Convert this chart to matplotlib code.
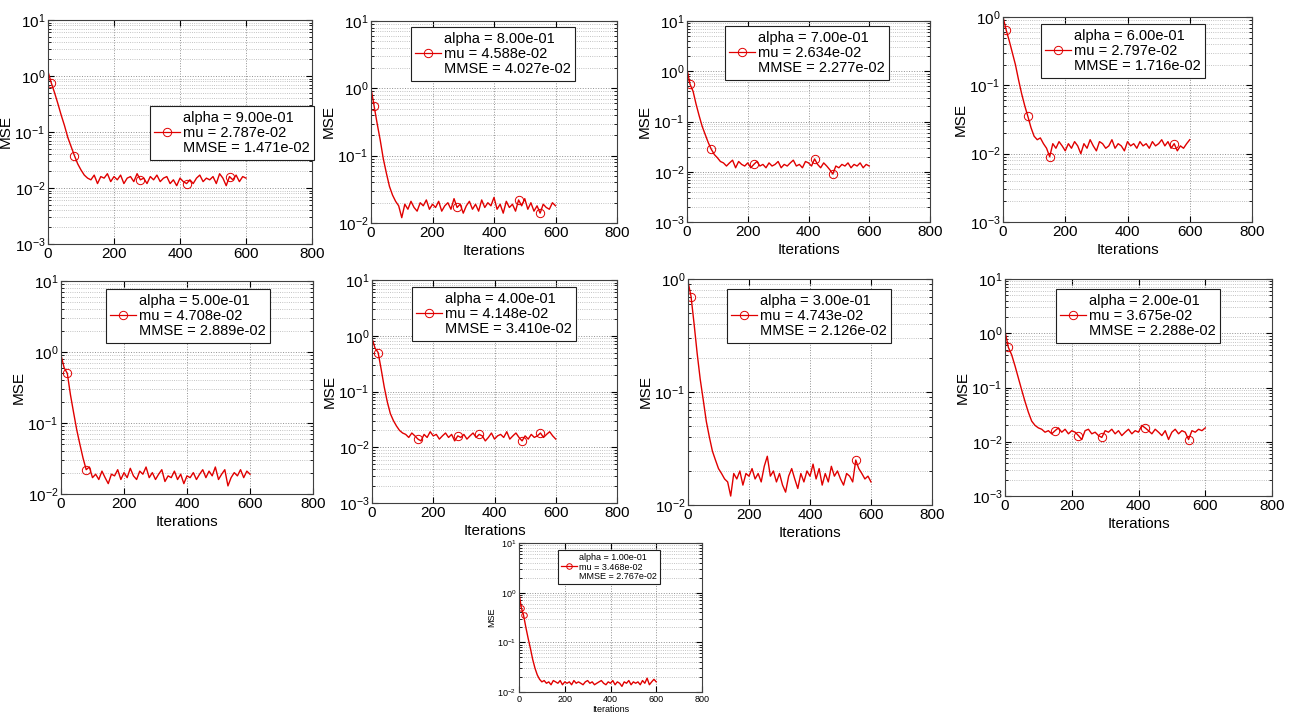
import matplotlib
matplotlib.use("Agg")
import matplotlib.pyplot as plt
from matplotlib.lines import Line2D
from matplotlib.ticker import LogLocator, NullFormatter
import numpy as np

plt.rcParams['font.family'] = ['Liberation Sans', 'DejaVu Sans']

# iterations sampled every 10 steps
ITERATIONS = list(range(0, 601, 10))

ALPHAS = ['9.00e-01', '8.00e-01', '7.00e-01', '6.00e-01', '5.00e-01',
          '4.00e-01', '3.00e-01', '2.00e-01', '1.00e-01']
MUS = ['2.787e-02', '4.588e-02', '2.634e-02', '2.797e-02', '4.708e-02',
       '4.148e-02', '4.743e-02', '3.675e-02', '3.468e-02']
MMSES = ['1.471e-02', '4.027e-02', '2.277e-02', '1.716e-02', '2.889e-02',
         '3.410e-02', '2.126e-02', '2.288e-02', '2.767e-02']

mse_a9 = [1.2, 0.75, 0.5, 0.32, 0.2, 0.13, 0.08, 0.055, 0.038, 0.027, 0.021, 0.017, 0.015,
          0.014, 0.017, 0.012, 0.016, 0.015, 0.018, 0.013, 0.016, 0.014, 0.017,
          0.012, 0.015, 0.016, 0.013, 0.018, 0.014, 0.015, 0.012, 0.016, 0.014,
          0.017, 0.013, 0.015, 0.016, 0.012, 0.014, 0.011, 0.015, 0.013, 0.012,
          0.014, 0.012, 0.015, 0.017, 0.013, 0.015, 0.014, 0.016, 0.012, 0.018,
          0.015, 0.011, 0.016, 0.014, 0.017, 0.013, 0.016, 0.015]
mse_a8 = [1.0, 0.55, 0.3, 0.17, 0.09, 0.055, 0.035, 0.026, 0.021, 0.018, 0.012,
          0.019, 0.016, 0.021, 0.017, 0.015, 0.020, 0.018, 0.022, 0.016, 0.019,
          0.017, 0.021, 0.015, 0.018, 0.020, 0.016, 0.023, 0.017, 0.019, 0.014,
          0.018, 0.021, 0.016, 0.019, 0.015, 0.022, 0.017, 0.020, 0.018, 0.024,
          0.016, 0.019, 0.014, 0.021, 0.017, 0.019, 0.015, 0.022, 0.018, 0.023,
          0.016, 0.020, 0.015, 0.018, 0.014, 0.019, 0.017, 0.016, 0.020, 0.018]
mse_a7 = [1.1, 0.55, 0.4, 0.22, 0.13, 0.08, 0.055, 0.038, 0.028, 0.022, 0.019, 0.016, 0.015,
          0.013, 0.015, 0.017, 0.012, 0.016, 0.014, 0.013, 0.015, 0.012, 0.014,
          0.016, 0.013, 0.014, 0.012, 0.015, 0.013, 0.014, 0.016, 0.012, 0.014,
          0.013, 0.015, 0.017, 0.013, 0.014, 0.012, 0.016, 0.015, 0.013, 0.018,
          0.014, 0.012, 0.015, 0.013, 0.011, 0.009, 0.013, 0.012, 0.014, 0.013,
          0.015, 0.012, 0.014, 0.013, 0.015, 0.012, 0.014, 0.013]
mse_a6 = [1.0, 0.65, 0.45, 0.3, 0.2, 0.12, 0.075, 0.05, 0.035, 0.024, 0.018, 0.016, 0.017,
          0.014, 0.012, 0.009,
          0.014, 0.012, 0.015, 0.013, 0.011, 0.014, 0.012, 0.015, 0.013, 0.010,
          0.014, 0.012, 0.016, 0.013, 0.011, 0.015, 0.014, 0.012, 0.013, 0.016,
          0.012, 0.014, 0.013, 0.011, 0.015, 0.013, 0.014, 0.012, 0.015, 0.013,
          0.014, 0.012, 0.015, 0.013, 0.014, 0.016, 0.013, 0.015, 0.012, 0.014,
          0.011, 0.013, 0.012, 0.014, 0.016]
mse_a5 = [0.9, 0.6, 0.5, 0.25, 0.14, 0.08, 0.05, 0.032, 0.022, 0.024, 0.017,
          0.019, 0.016, 0.021, 0.017, 0.014, 0.019, 0.018, 0.022, 0.016, 0.020,
          0.017, 0.023, 0.018, 0.016, 0.021, 0.019, 0.024, 0.017, 0.020, 0.016,
          0.019, 0.022, 0.015, 0.018, 0.017, 0.021, 0.016, 0.019, 0.014, 0.018,
          0.017, 0.020, 0.016, 0.019, 0.022, 0.017, 0.021, 0.018, 0.024, 0.016,
          0.019, 0.022, 0.013, 0.017, 0.020, 0.018, 0.022, 0.017, 0.021, 0.019]
mse_a4 = [0.9, 0.6, 0.5, 0.25, 0.12, 0.065, 0.04, 0.03, 0.024, 0.02, 0.018,
          0.017, 0.015, 0.018, 0.016, 0.014, 0.013, 0.017, 0.015, 0.019, 0.016,
          0.017, 0.014, 0.016, 0.018, 0.015, 0.017, 0.013, 0.016, 0.015, 0.017,
          0.014, 0.016, 0.018, 0.015, 0.017, 0.016, 0.013, 0.015, 0.018, 0.014,
          0.016, 0.017, 0.015, 0.019, 0.014, 0.016, 0.018, 0.015, 0.013, 0.016,
          0.014, 0.017, 0.015, 0.016, 0.018, 0.015, 0.017, 0.019, 0.016, 0.014]
mse_a3 = [0.95, 0.7, 0.4, 0.22, 0.13, 0.085, 0.055, 0.04, 0.03, 0.025, 0.021, 0.019, 0.017,
          0.016, 0.012, 0.019, 0.017, 0.020, 0.015, 0.019, 0.018, 0.021, 0.017,
          0.019, 0.016, 0.022, 0.027, 0.018, 0.020, 0.016, 0.019, 0.015, 0.013,
          0.018, 0.021, 0.017, 0.014, 0.019, 0.016, 0.020, 0.018, 0.023, 0.017,
          0.021, 0.015, 0.019, 0.016, 0.022, 0.018, 0.020, 0.017, 0.015, 0.019,
          0.018, 0.016, 0.025, 0.021, 0.019, 0.017, 0.018, 0.016]
mse_a2 = [1.1, 0.55, 0.4, 0.25, 0.15, 0.09, 0.055, 0.035, 0.024, 0.02, 0.018,
          0.017, 0.015, 0.016, 0.014, 0.016, 0.018, 0.015, 0.017, 0.014, 0.016,
          0.015, 0.013, 0.011, 0.016, 0.017, 0.014, 0.015, 0.013, 0.012, 0.016,
          0.015, 0.017, 0.014, 0.016, 0.013, 0.015, 0.017, 0.014, 0.016, 0.015,
          0.020, 0.018, 0.016, 0.014, 0.017, 0.015, 0.013, 0.016, 0.011, 0.015,
          0.017, 0.014, 0.016, 0.015, 0.011, 0.016, 0.015, 0.017, 0.016, 0.018]
mse_a1 = [1.0, 0.5, 0.35, 0.2, 0.12, 0.075, 0.045, 0.03, 0.022, 0.018, 0.016,
          0.017, 0.015, 0.016, 0.014, 0.017, 0.016, 0.015, 0.017, 0.014, 0.016,
          0.015, 0.016, 0.014, 0.017, 0.015, 0.016, 0.015, 0.014, 0.016, 0.017,
          0.015, 0.016, 0.014, 0.015, 0.016, 0.017, 0.015, 0.014, 0.016, 0.015,
          0.017, 0.014, 0.016, 0.015, 0.013, 0.016, 0.015, 0.017, 0.014, 0.016,
          0.015, 0.016, 0.014, 0.017, 0.015, 0.019, 0.014, 0.016, 0.018, 0.016]

MSE_CURVES = [mse_a9, mse_a8, mse_a7, mse_a6, mse_a5, mse_a4, mse_a3, mse_a2, mse_a1]

# iterations where the circle markers sit
MARKER_ITERS = [[10, 80, 280, 420, 550], [10, 280, 480, 550], [10, 80, 220, 420, 480],
                [10, 80, 150, 550], [20, 80], [20, 150, 280, 350, 490, 550],
                [10, 550], [10, 150, 220, 290, 420, 550], [10, 20]]

YLIMS = [(1e-3, 1e1), (1e-2, 1e1), (1e-3, 1e1), (1e-3, 1e0), (1e-2, 1e1),
         (1e-3, 1e1), (1e-2, 1e0), (1e-3, 1e1), (1e-2, 1e1)]

# layout in pixels: left, top, right, bottom of axes; legend centre
W, H = 1293, 718
AX_PX = [(48, 20, 312, 244), (371, 21, 617, 223), (687, 21, 930, 222), (1003, 17, 1252, 222),
         (61, 281, 313, 494), (372, 280, 617, 503), (688, 279, 932, 505), (1005, 279, 1272, 496),
         (519, 543, 702, 692)]
LEG_PX = [(232, 133), (493, 54), (807, 53), (1123, 51), (188, 316), (494, 314),
          (809, 316), (1138, 316), (609, 567)]

RED = '#e00000'

fig = plt.figure(figsize=(W / 100, H / 100), dpi=100)

for i in range(9):
    l, t, r, b = AX_PX[i]
    ax = fig.add_axes([l / W, 1 - b / H, (r - l) / W, (b - t) / H])
    small = i == 8
    fs = 6.5 if small else 11
    lfs = 6.5 if small else 10.5
    ms = 4 if small else 6

    marks = [ITERATIONS.index(m) for m in MARKER_ITERS[i]]
    ax.semilogy(ITERATIONS, MSE_CURVES[i], color=RED, lw=1.0,
                marker='o', markevery=marks, markersize=ms,
                markerfacecolor='none', markeredgecolor=RED, markeredgewidth=0.7)

    ax.set_xlim(0, 800)
    ax.set_ylim(*YLIMS[i])
    ax.set_xticks([0, 200, 400, 600, 800])
    ax.yaxis.set_major_locator(LogLocator(base=10, numticks=10))
    ax.yaxis.set_minor_locator(LogLocator(base=10, subs=np.arange(2, 10), numticks=20))
    ax.yaxis.set_minor_formatter(NullFormatter())
    ax.tick_params(which='both', direction='in', top=True, right=True,
                   labelsize=fs, pad=2)
    ax.tick_params(which='major', length=4)
    ax.tick_params(which='minor', length=2)

    ax.grid(True, which='major', ls=':', color='#909090', lw=0.7)
    ax.yaxis.grid(True, which='minor', ls=':', color='#b0b0b0', lw=0.6)
    for sp in ax.spines.values():
        sp.set_color('#404040')
        sp.set_linewidth(0.8)

    ax.set_ylabel('MSE', fontsize=fs, labelpad=1)
    if i != 0:
        ax.set_xlabel('Iterations', fontsize=fs, labelpad=1 if small else 3)

    handles = [Line2D([], [], color='none'),
               Line2D([], [], color=RED, lw=0.9, marker='o', markersize=ms,
                      markerfacecolor='none', markeredgecolor=RED, markeredgewidth=0.7),
               Line2D([], [], color='none')]
    labels = ['alpha = ' + ALPHAS[i], 'mu = ' + MUS[i], 'MMSE = ' + MMSES[i]]
    cx, cy = LEG_PX[i]
    leg = ax.legend(handles, labels, loc='center', bbox_to_anchor=(cx / W, 1 - cy / H),
                    bbox_transform=fig.transFigure, fontsize=lfs, frameon=True,
                    fancybox=False, framealpha=1, edgecolor='#202020',
                    handlelength=1.8, handletextpad=0.2, labelspacing=0.1,
                    borderpad=0.3, borderaxespad=0)
    leg.get_frame().set_linewidth(0.8)

fig.savefig('out.png', dpi=100)
